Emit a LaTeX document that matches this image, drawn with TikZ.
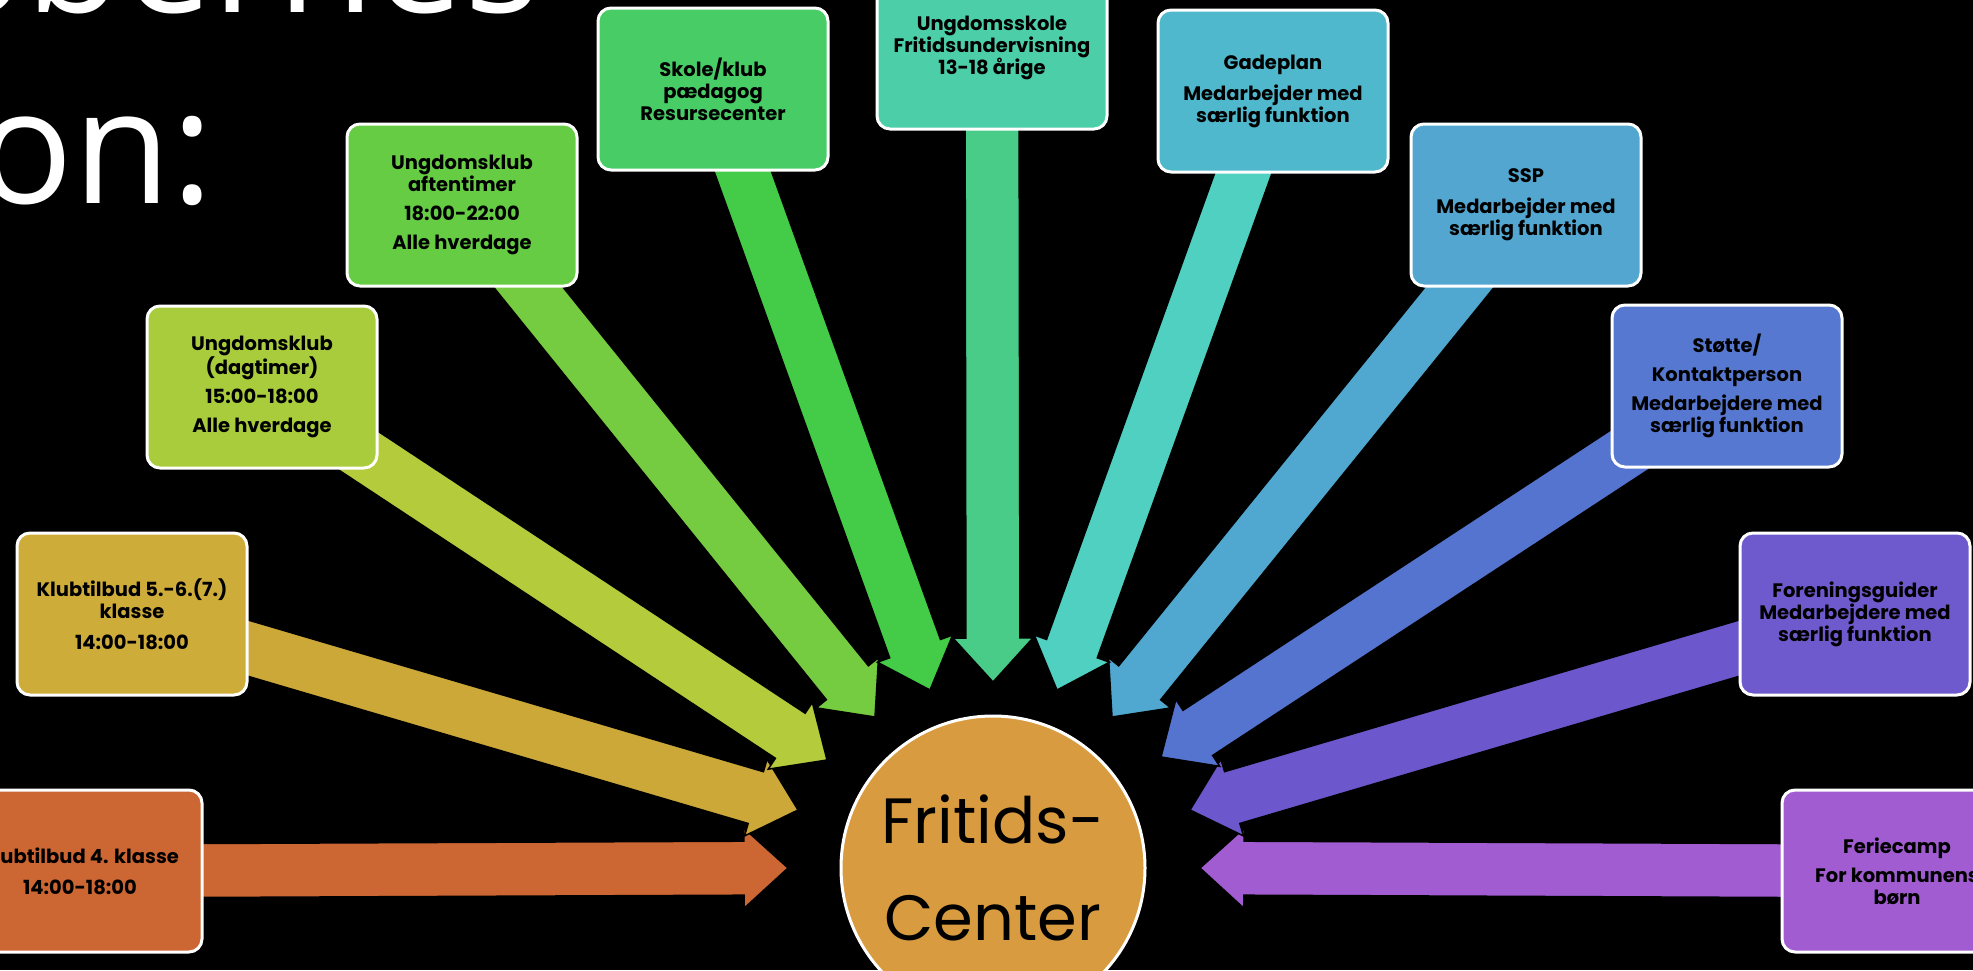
\documentclass[tikz,border=0pt]{standalone}
\usepackage{fontspec}
\setmainfont{Poppins}
\newfontfamily\titlefont{Open Sans}
\usetikzlibrary{calc,backgrounds}

\definecolor{b1}{RGB}{204,102,51}
\definecolor{b2}{RGB}{205,172,58}
\definecolor{b3}{RGB}{168,204,60}
\definecolor{b4}{RGB}{102,204,68}
\definecolor{b5}{RGB}{72,204,102}
\definecolor{b6}{RGB}{76,207,168}
\definecolor{b7}{RGB}{80,184,204}
\definecolor{b8}{RGB}{82,166,208}
\definecolor{b9}{RGB}{86,120,208}
\definecolor{b10}{RGB}{110,90,204}
\definecolor{b11}{RGB}{160,92,208}
\definecolor{a2}{RGB}{204,168,56}
\definecolor{a3}{RGB}{180,204,60}
\definecolor{a4}{RGB}{118,204,64}
\definecolor{a5}{RGB}{68,204,72}
\definecolor{a6}{RGB}{72,204,136}
\definecolor{a7}{RGB}{80,208,192}
\definecolor{a8}{RGB}{80,168,208}
\definecolor{a9}{RGB}{84,116,208}
\definecolor{a10}{RGB}{108,88,204}
\definecolor{a11}{RGB}{160,92,208}
\definecolor{midt}{RGB}{217,155,64}

\begin{document}
\begin{tikzpicture}[x=1pt,y=-1pt,
    box/.style={draw=white, line width=3pt, rounded corners=13pt,
      minimum width=230pt, minimum height=162pt, align=center, inner sep=4pt,
      font=\fontsize{19.5}{22}\selectfont\bfseries},
    pil/.style={draw=black, line width=1.5pt}
  ]
  \useasboundingbox (0,0) rectangle (1973,970);

  \node[text=white, anchor=base east, inner sep=0pt,
    font=\titlefont\fontsize{159}{180}\selectfont] (titel1) at (540,12) {Klubbernes};
  \node[text=white, anchor=base east, inner sep=0pt,
    font=\titlefont\fontsize{159}{180}\selectfont] (titel2) at (214,203) {organisation:};

  \node[box, fill=b1, minimum width=244pt] (kl4) at (80,871) {Klubtilbud 4. klasse\\[9pt]14:00-18:00};
  \node[box, fill=b2] (kl56) at (132,614) {Klubtilbud 5.-6.(7.)\\klasse\\[9pt]14:00-18:00};
  \node[box, fill=b3] (dag) at (262,387) {Ungdomsklub\\(dagtimer)\\[7pt]15:00-18:00\\[7pt]Alle hverdage};
  \node[box, fill=b4] (aften) at (462,205) {Ungdomsklub\\aftentimer\\[7pt]18:00-22:00\\[7pt]Alle hverdage};
  \node[box, fill=b5] (skole) at (713,89) {Skole/klub\\pædagog\\Resursecenter};
  \node[box, fill=b6] (uskole) at (992,48) {Ungdomsskole\\Fritidsundervisning\\13-18 årige};
  \node[box, fill=b7] (gade) at (1273,91) {Gadeplan\\[9pt]Medarbejder med\\særlig funktion};
  \node[box, fill=b8] (ssp) at (1526,205) {SSP\\[9pt]Medarbejder med\\særlig funktion};
  \node[box, fill=b9] (stoette) at (1727,386) {Støtte/\\[7pt]Kontaktperson\\[7pt]Medarbejdere med\\særlig funktion};
  \node[box, fill=b10] (forening) at (1855,614) {Foreningsguider\\Medarbejdere med\\særlig funktion};
  \node[box, fill=b11] (ferie) at (1897,871) {Feriecamp\\[7pt]For kommunens\\børn};

  \node[circle, fill=midt, draw=white, line width=3pt, minimum size=304pt, align=center,
    font=\fontsize{64}{97}\selectfont] (fc) at (993,868) {Fritids-\\Center};

  \coordinate (t-kl4) at (788,868);
  \coordinate (t-kl56) at (798,810);
  \coordinate (t-dag) at (827,760);
  \coordinate (t-aften) at (875,717);
  \coordinate (t-skole) at (930,690);
  \coordinate (t-uskole) at (993,682);
  \coordinate (t-gade) at (1057,690);
  \coordinate (t-ssp) at (1112,717);
  \coordinate (t-stoette) at (1161,757);
  \coordinate (t-forening) at (1190,810);
  \coordinate (t-ferie) at (1200,868);

  \begin{scope}[on background layer]
    \fill[black] (0,0) rectangle (1973,970);
    \foreach \src/\col in {kl4/b1, kl56/a2, dag/a3, aften/a4, skole/a5, ferie/a11,
        forening/a10, stoette/a9, ssp/a8, gade/a7, uskole/a6} {
      \coordinate (h) at ($(t-\src)!44pt!(\src.center)$);
      \filldraw[pil, fill=\col] ($(\src.center)!27pt!90:(t-\src)$)
        -- ($(h)!27pt!-90:(\src.center)$) -- ($(h)!40pt!-90:(\src.center)$)
        -- (t-\src)
        -- ($(h)!40pt!90:(\src.center)$) -- ($(h)!27pt!90:(\src.center)$)
        -- ($(\src.center)!27pt!-90:(t-\src)$) -- cycle;
    }
  \end{scope}
\end{tikzpicture}
\end{document}
